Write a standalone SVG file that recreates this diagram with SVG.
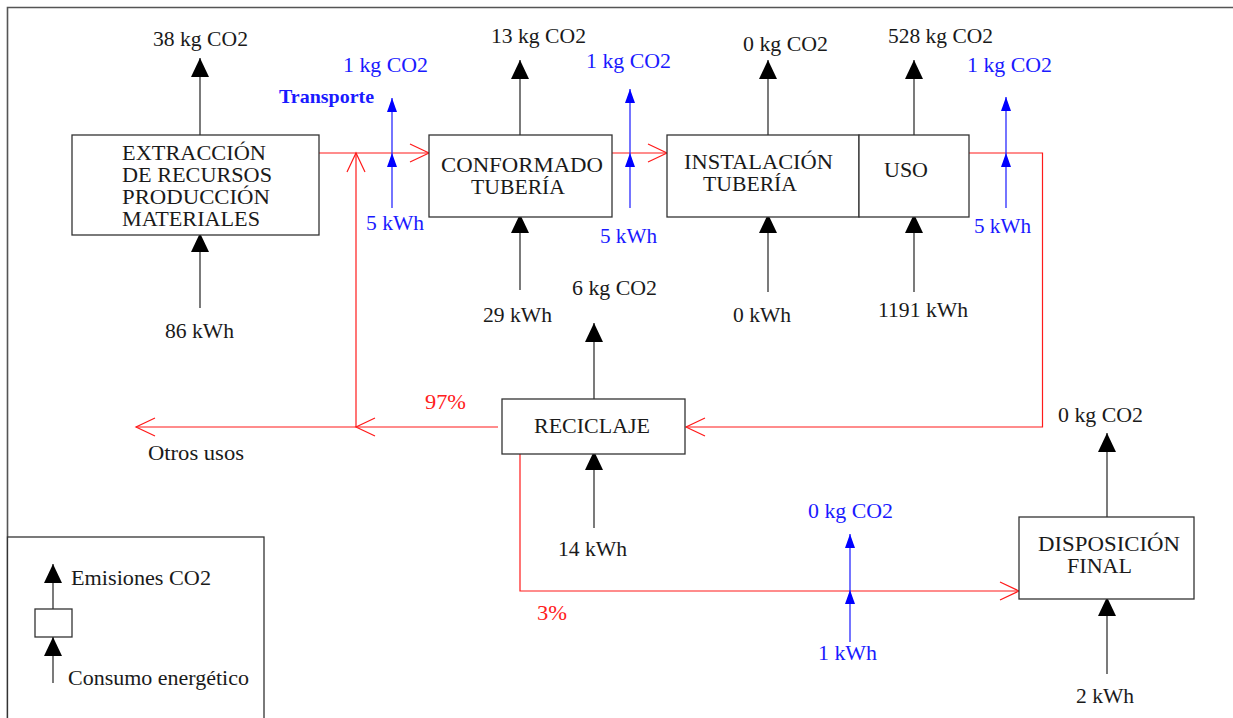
<svg xmlns="http://www.w3.org/2000/svg" width="1233" height="718" viewBox="0 0 1233 718">
<defs>
<style>
.box{fill:#fff;stroke:#333;stroke-width:1.3}
.t{font-family:"Liberation Serif","Times New Roman",serif;font-size:21px;fill:#1a1a1a}
.tb{font-family:"Liberation Serif","Times New Roman",serif;font-size:21px;fill:#1a1aff}
.tr{font-family:"Liberation Serif","Times New Roman",serif;font-size:21px;fill:#ff2020}
.bold{font-weight:bold;font-size:19px}
.k{stroke:#333;stroke-width:1.3;fill:none}
.b{stroke:#2a2aff;stroke-width:1.3;fill:none}
.r{stroke:#ff1a1a;stroke-width:1.2;fill:none}
</style>
<marker id="ak" viewBox="0 0 19 18" refX="19" refY="9" markerWidth="19" markerHeight="18" markerUnits="userSpaceOnUse" orient="auto"><path d="M0,0 L19,9 L0,18 z" fill="#000"/></marker>
<marker id="abl" viewBox="0 0 14 10" refX="14" refY="5" markerWidth="14" markerHeight="10" markerUnits="userSpaceOnUse" orient="auto"><path d="M0,0 L14,5 L0,10 z" fill="#0000ff"/></marker>
<marker id="ar" viewBox="0 0 20 20" refX="19" refY="10" markerWidth="20" markerHeight="20" markerUnits="userSpaceOnUse" orient="auto" overflow="visible"><path d="M0,1 L19,10 L0,19" fill="none" stroke="#ff1a1a" stroke-width="1.2"/></marker>
</defs>
<rect width="1233" height="718" fill="#fff"/>
<g id="frame"><path d="M7.5,718 V7.5 H1233" fill="none" stroke="#555" stroke-width="1.6"/></g>

<g id="connectors">
<path class="r" d="M319,153 H429" marker-end="url(#ar)"/>
<path class="r" d="M356,427 V153" marker-end="url(#ar)"/>
<path class="r" d="M612,153 H667" marker-end="url(#ar)"/>
<path class="r" d="M969,153 H1042.5 V427 H686" marker-end="url(#ar)"/>
<path class="r" d="M498,427 H356" marker-end="url(#ar)"/>
<path class="r" d="M356,427 H136" marker-end="url(#ar)"/>
<path class="r" d="M520,454 V591 H1019" marker-end="url(#ar)"/>
<path class="k" d="M200,135 V58" marker-end="url(#ak)"/>
<path class="k" d="M200,308 V233" marker-end="url(#ak)"/>
<path class="k" d="M520,135 V60" marker-end="url(#ak)"/>
<path class="k" d="M520,290 V214" marker-end="url(#ak)"/>
<path class="k" d="M768,135 V60" marker-end="url(#ak)"/>
<path class="k" d="M768,292 V214" marker-end="url(#ak)"/>
<path class="k" d="M914,135 V60" marker-end="url(#ak)"/>
<path class="k" d="M914,292 V214" marker-end="url(#ak)"/>
<path class="k" d="M594,399 V323" marker-end="url(#ak)"/>
<path class="k" d="M594,528 V451" marker-end="url(#ak)"/>
<path class="k" d="M1107,517 V433" marker-end="url(#ak)"/>
<path class="k" d="M1107,674 V597" marker-end="url(#ak)"/>
<path class="b" d="M392,208 V153 V98" marker-mid="url(#abl)" marker-end="url(#abl)"/>
<path class="b" d="M630,208 V153 V89" marker-mid="url(#abl)" marker-end="url(#abl)"/>
<path class="b" d="M1006,208 V153 V97" marker-mid="url(#abl)" marker-end="url(#abl)"/>
<path class="b" d="M850,642 V590 V534" marker-mid="url(#abl)" marker-end="url(#abl)"/>
</g>

<g id="extraccion">
<rect class="box" x="72" y="135" width="247" height="100"/>
<text class="t" x="122" y="160" textLength="144" lengthAdjust="spacingAndGlyphs">EXTRACCIÓN</text>
<text class="t" x="122" y="182" textLength="150" lengthAdjust="spacingAndGlyphs">DE RECURSOS</text>
<text class="t" x="122" y="204" textLength="148" lengthAdjust="spacingAndGlyphs">PRODUCCIÓN</text>
<text class="t" x="122" y="226" textLength="138" lengthAdjust="spacingAndGlyphs">MATERIALES</text>
</g>
<g id="conformado">
<rect class="box" x="429" y="135" width="183" height="82"/>
<text class="t" x="441" y="172" textLength="162" lengthAdjust="spacingAndGlyphs">CONFORMADO</text>
<text class="t" x="471" y="194" textLength="94" lengthAdjust="spacingAndGlyphs">TUBERÍA</text>
</g>
<g id="instalacion">
<rect class="box" x="667" y="135" width="192" height="82"/>
<text class="t" x="684" y="169" textLength="149" lengthAdjust="spacingAndGlyphs">INSTALACIÓN</text>
<text class="t" x="703" y="191" textLength="94" lengthAdjust="spacingAndGlyphs">TUBERÍA</text>
</g>
<g id="uso">
<rect class="box" x="859" y="135" width="110" height="82"/>
<text class="t" x="884" y="177" textLength="44" lengthAdjust="spacingAndGlyphs">USO</text>
</g>
<g id="reciclaje">
<rect class="box" x="502" y="399" width="183" height="55"/>
<text class="t" x="534" y="433" textLength="116" lengthAdjust="spacingAndGlyphs">RECICLAJE</text>
</g>
<g id="disposicion">
<rect class="box" x="1019" y="517" width="175" height="82"/>
<text class="t" x="1038" y="551" textLength="142" lengthAdjust="spacingAndGlyphs">DISPOSICIÓN</text>
<text class="t" x="1067" y="573" textLength="65" lengthAdjust="spacingAndGlyphs">FINAL</text>
</g>

<g id="labels">
<text class="t" x="153" y="46" textLength="95" lengthAdjust="spacingAndGlyphs">38 kg CO2</text>
<text class="t" x="165" y="338" textLength="69" lengthAdjust="spacingAndGlyphs">86 kWh</text>
<text class="t" x="491" y="43" textLength="95" lengthAdjust="spacingAndGlyphs">13 kg CO2</text>
<text class="t" x="483" y="322" textLength="69" lengthAdjust="spacingAndGlyphs">29 kWh</text>
<text class="t" x="743" y="51" textLength="85" lengthAdjust="spacingAndGlyphs">0 kg CO2</text>
<text class="t" x="733" y="322" textLength="58" lengthAdjust="spacingAndGlyphs">0 kWh</text>
<text class="t" x="888" y="43" textLength="105" lengthAdjust="spacingAndGlyphs">528 kg CO2</text>
<text class="t" x="878" y="317" textLength="90" lengthAdjust="spacingAndGlyphs">1191 kWh</text>
<text class="t" x="572" y="295" textLength="85" lengthAdjust="spacingAndGlyphs">6 kg CO2</text>
<text class="t" x="558" y="556" textLength="69" lengthAdjust="spacingAndGlyphs">14 kWh</text>
<text class="t" x="1058" y="422" textLength="85" lengthAdjust="spacingAndGlyphs">0 kg CO2</text>
<text class="t" x="1076" y="703" textLength="58" lengthAdjust="spacingAndGlyphs">2 kWh</text>
<text class="t" x="148" y="460" textLength="96" lengthAdjust="spacingAndGlyphs">Otros usos</text>
<text class="tb" x="343" y="72" textLength="85" lengthAdjust="spacingAndGlyphs">1 kg CO2</text>
<text class="tb bold" x="279" y="103" textLength="95" lengthAdjust="spacingAndGlyphs">Transporte</text>
<text class="tb" x="366" y="230" textLength="58" lengthAdjust="spacingAndGlyphs">5 kWh</text>
<text class="tb" x="586" y="68" textLength="85" lengthAdjust="spacingAndGlyphs">1 kg CO2</text>
<text class="tb" x="600" y="243" textLength="57" lengthAdjust="spacingAndGlyphs">5 kWh</text>
<text class="tb" x="967" y="72" textLength="85" lengthAdjust="spacingAndGlyphs">1 kg CO2</text>
<text class="tb" x="974" y="233" textLength="57" lengthAdjust="spacingAndGlyphs">5 kWh</text>
<text class="tb" x="808" y="518" textLength="85" lengthAdjust="spacingAndGlyphs">0 kg CO2</text>
<text class="tb" x="818" y="660" textLength="59" lengthAdjust="spacingAndGlyphs">1 kWh</text>
<text class="tr" x="425" y="409" textLength="41" lengthAdjust="spacingAndGlyphs">97%</text>
<text class="tr" x="537" y="620" textLength="30" lengthAdjust="spacingAndGlyphs">3%</text>
</g>

<g id="legend">
<rect x="7.5" y="537" width="256.5" height="190" fill="#fff" stroke="#333" stroke-width="1.3"/>
<rect x="35" y="609" width="37" height="28" fill="#fff" stroke="#333" stroke-width="1.3"/>
<path class="k" d="M53,609 V564" marker-end="url(#ak)"/>
<path class="k" d="M53,683 V637" marker-end="url(#ak)"/>
<text class="t" x="71" y="585" textLength="140" lengthAdjust="spacingAndGlyphs">Emisiones CO2</text>
<text class="t" x="68" y="685" textLength="181" lengthAdjust="spacingAndGlyphs">Consumo energético</text>
</g>
</svg>
